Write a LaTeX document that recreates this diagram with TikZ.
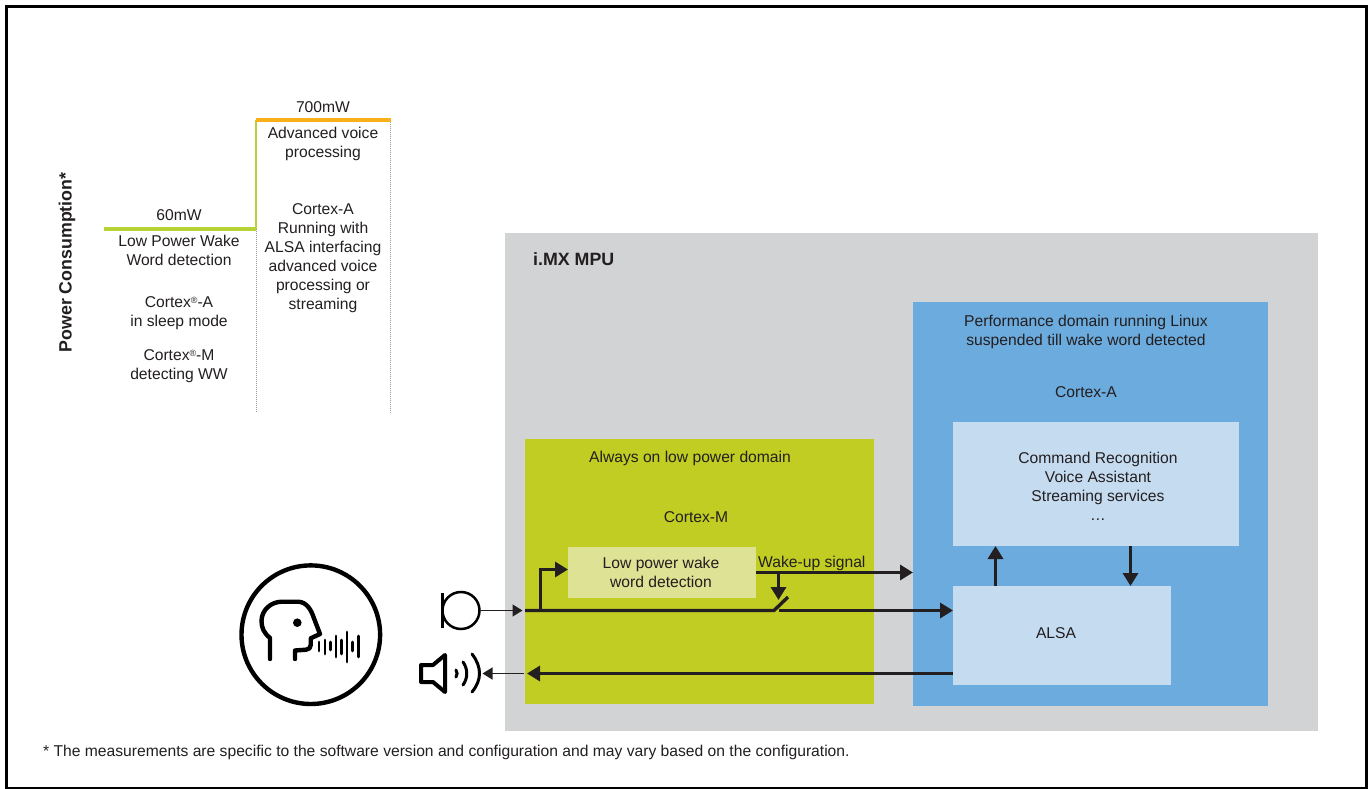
\documentclass[tikz,border=0pt]{standalone}
\usepackage{fontspec}
\setmainfont{Liberation Sans}
\usetikzlibrary{arrows.meta}
\definecolor{mpugray}{HTML}{D1D3D4}
\definecolor{lpgreen}{HTML}{C1CD23}
\definecolor{lpbox}{HTML}{DDE294}
\definecolor{perfblue}{HTML}{6CABDD}
\definecolor{lightblue}{HTML}{C5DBF0}
\definecolor{amber}{HTML}{FBB01A}
\definecolor{chartgreen}{HTML}{B5D334}
\definecolor{ink}{HTML}{231F20}
\newcommand{\regmark}{\raisebox{0.5ex}{\fontsize{9}{9}\selectfont ®}}
\tikzset{
  box/.style={anchor=north west,inner sep=0pt,outer sep=0pt},
  lbl/.style={align=center,inner sep=0pt,font=\fontsize{15.65}{19}\selectfont,text=ink},
  boldlbl/.style={lbl,font=\fontsize{17.8}{19}\selectfont\bfseries},
  flow/.style={draw=ink,line width=3.4pt,-{Triangle[length=13pt,width=15pt]}},
  plainflow/.style={draw=ink,line width=3.4pt},
  thinflow/.style={draw=ink,line width=1.3pt,-{Triangle[length=10pt,width=12pt]}},
  guide/.style={draw=black!40,line width=0.8pt,dash pattern=on 1pt off 1pt},
  icon/.style={draw=black,line width=4pt,line cap=round,line join=round}
}
\begin{document}
\begin{tikzpicture}[x=1pt,y=-1pt]
\useasboundingbox (0,0) rectangle (1369,789);
\fill[white] (0,0) rectangle (1369,789);
\coordinate (fa) at (6.5,788);
\coordinate (fb) at (6.5,6.5);
\coordinate (fc) at (1366.5,6.5);
\coordinate (fd) at (1366.5,788);
\draw[black,line width=3pt] (fa) -- (fb) -- (fc) -- (fd) -- cycle;
% chart
\coordinate (g0) at (104,229);
\coordinate (g1) at (256,229);
\coordinate (g2) at (256,120);
\coordinate (y1) at (391,120);
\coordinate (d1) at (256,413);
\coordinate (d2) at (390,413);
\coordinate (d3) at (390,120);
\draw[guide] (g1) -- (d1);
\draw[guide] (d3) -- (d2);
\draw[chartgreen,line width=2pt] (g1) -- (g2);
\draw[chartgreen,line width=4pt] (g0) -- (g1);
\draw[amber,line width=4pt] (g2) -- (y1);
\node[boldlbl,rotate=90] (pc) at (67,262.5) {Power Consumption*};
\node[lbl] (p60) at (179,215) {60mW};
\node[lbl] (p700) at (323,107) {700mW};
\node[lbl] (t1) at (179,250) {Low Power Wake\\Word detection};
\node[lbl] (t2) at (179,313.5) {Cortex\regmark-A\\in sleep mode};
\node[lbl] (t3) at (179,366.5) {Cortex\regmark-M\\detecting WW};
\node[lbl] (t4) at (323,144) {Advanced voice\\processing};
\node[lbl] (t5) at (323,258) {Cortex-A\\Running with\\ALSA interfacing\\advanced voice\\processing or\\streaming};
% boxes
\node[box,fill=mpugray,minimum width=813pt,minimum height=498pt] (mpu) at (505,233) {};
\node[box,fill=lpgreen,minimum width=349pt,minimum height=265pt] (lp) at (525,439) {};
\node[box,fill=perfblue,minimum width=355pt,minimum height=404pt] (perf) at (913,302) {};
\node[box,fill=lightblue,minimum width=286pt,minimum height=124pt] (cmd) at (953,422) {};
\node[box,fill=lightblue,minimum width=218pt,minimum height=99pt] (alsa) at (953,586) {};
\node[box,fill=lpbox,minimum width=188pt,minimum height=51pt] (wake) at (568,547) {};
% box labels
\node[boldlbl,anchor=west] (mx) at (533,259) {i.MX MPU};
\node[lbl] (l1) at (690,458) {Always on low power domain};
\node[lbl] (l2) at (696,517) {Cortex-M};
\node[lbl] (l3) at (661,572.5) {Low power wake\\word detection};
\node[lbl,anchor=west] (l4) at (758,563) {Wake-up signal};
\node[lbl] (l5) at (1086,332) {Performance domain running Linux\\suspended till wake word detected};
\node[lbl] (l6) at (1086,392) {Cortex-A};
\node[lbl] (l7) at (1098,486.5) {Command Recognition\\Voice Assistant\\Streaming services\\…};
\node[lbl] (l8) at (1056,633.5) {ALSA};
\node[lbl,anchor=west] (foot) at (43,752) {* The measurements are specific to the software version and configuration and may vary based on the configuration.};
% connectors
\coordinate (inS) at (lp.west |- 0,610.5);
\coordinate (inT) at (522.5,610.5);
\coordinate (sw1) at (774,610.5);
\coordinate (sw2) at (788,597);
\coordinate (sw3) at (779,610.5);
\coordinate (br) at (540.5,610.5);
\coordinate (br2) at (540.5,569.5);
\coordinate (wk) at (778.5,572.5);
\coordinate (swT) at (778.5,600);
\coordinate (perfin) at (perf.west |- 0,572.5);
\coordinate (alsaIn) at (alsa.west |- 0,610.5);
\coordinate (alsaOut) at (alsa.west |- 0,673.5);
\coordinate (lpOut) at (527,673.5);
\coordinate (wkS) at (wake.east |- 0,572.5);
\coordinate (wT) at (wake.west |- 0,569.5);
\coordinate (up) at (995.5,0);
\coordinate (dn) at (1130.5,0);
\draw[plainflow] (inS) -- (sw1) -- (sw2);
\draw[flow] (sw3) -- (alsaIn);
\draw[flow] (br) -- (br2) -- (wT);
\draw[flow] (wkS) -- (perfin);
\draw[flow] (wk) -- (swT);
\draw[flow] (alsaOut) -- (lpOut);
\draw[flow] (up |- alsa.north) -- (up |- cmd.south);
\draw[flow] (dn |- cmd.south) -- (dn |- alsa.north);
% mic
\node[draw=black,line width=2.5pt,circle,minimum size=37pt,inner sep=0pt,outer sep=0pt] (mic) at (461,610.5) {};
\coordinate (ma) at (442.5,593);
\coordinate (mb) at (442.5,628);
\draw[black,line width=2.5pt] (ma) -- (mb);
\draw[thinflow] (mic.east) -- (inT);
% speaker
\coordinate (sp1) at (421,665);
\coordinate (sp2) at (433,665);
\coordinate (sp3) at (445,655);
\coordinate (sp4) at (445,692);
\coordinate (sp5) at (433,682);
\coordinate (sp6) at (421,682);
\draw[icon] (sp1) -- (sp2) -- (sp3) -- (sp4) -- (sp5) -- (sp6) -- cycle;
\coordinate (spk) at (482.5,673.5);
\coordinate (out0) at (524,673.5);
\draw[thinflow] (out0) -- (spk);
\draw[icon,line width=3pt] (456,670) .. controls (457.5,672) and (457.5,675) .. (456,677);
\draw[icon,line width=3pt] (463,662) .. controls (468,669) and (468,678) .. (463,685);
\draw[icon,line width=3pt] (472,654) .. controls (482,667) and (482,680) .. (472,692);
% speaker-head icon
\node[draw=black,line width=4.4pt,circle,minimum size=138.6pt,inner sep=0pt,outer sep=0pt] (face) at (310.8,634.7) {};
\draw[icon,line width=4.4pt] (270,659) -- (270,638) .. controls (264,633) and (261.5,628) .. (261.5,621)
  .. controls (261.5,610) and (271,601.7) .. (282,601.7) -- (298,601.7)
  .. controls (307,602) and (311,610) .. (313.5,617) -- (320,634) -- (310.7,638.3) -- (310.7,645)
  .. controls (310.7,648) and (309,649.5) .. (306,649.7) -- (295,650.5) -- (295,659);
\fill[black] (297.3,622.7) circle (4.3pt);
\foreach \x/\a/\b in {319/642/651,325/640/654,330.3/642/650,336/636/657,341.3/640/654,347/632/662,352.7/642/651,358.3/636/657}
  \draw[black,line width=2.8pt,line cap=round] (\x,\a) -- (\x,\b);
\end{tikzpicture}
\end{document}
